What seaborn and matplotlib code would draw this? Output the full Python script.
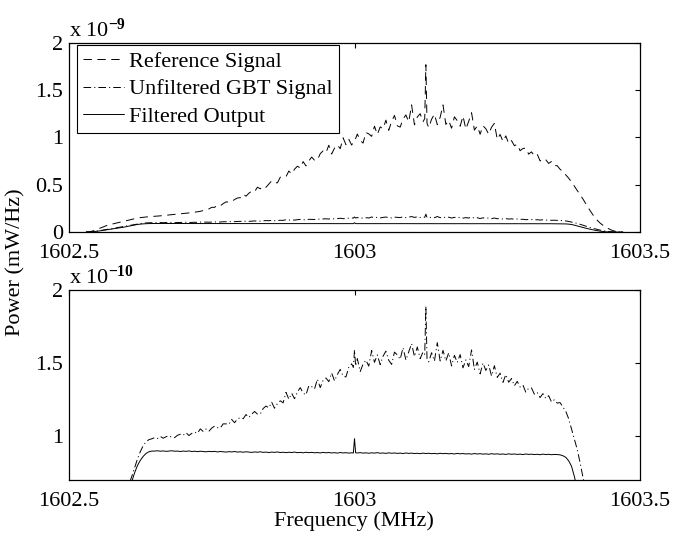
import numpy as np
import pandas as pd
import matplotlib
matplotlib.use("Agg")
import matplotlib.pyplot as plt
import seaborn as sns

# ---------------- data ----------------
freq_mhz = [
    1602.530, 1602.535, 1602.540, 1602.545, 1602.550, 1602.555, 1602.560, 1602.565, 1602.570, 1602.575,
    1602.580, 1602.585, 1602.590, 1602.595, 1602.600, 1602.605, 1602.610, 1602.615, 1602.620, 1602.625,
    1602.630, 1602.635, 1602.640, 1602.645, 1602.650, 1602.655, 1602.660, 1602.665, 1602.670, 1602.675,
    1602.680, 1602.685, 1602.690, 1602.695, 1602.700, 1602.705, 1602.710, 1602.715, 1602.720, 1602.725,
    1602.730, 1602.735, 1602.740, 1602.745, 1602.750, 1602.755, 1602.760, 1602.765, 1602.770, 1602.775,
    1602.780, 1602.785, 1602.790, 1602.795, 1602.800, 1602.805, 1602.810, 1602.815, 1602.820, 1602.825,
    1602.830, 1602.835, 1602.840, 1602.845, 1602.850, 1602.855, 1602.860, 1602.865, 1602.870, 1602.875,
    1602.880, 1602.885, 1602.890, 1602.895, 1602.900, 1602.905, 1602.910, 1602.915, 1602.920, 1602.925,
    1602.930, 1602.935, 1602.940, 1602.945, 1602.950, 1602.955, 1602.960, 1602.965, 1602.970, 1602.975,
    1602.980, 1602.985, 1602.990, 1602.995, 1602.998, 1603.000, 1603.002, 1603.005, 1603.010, 1603.015, 1603.020, 1603.025,
    1603.030, 1603.035, 1603.040, 1603.045, 1603.050, 1603.055, 1603.060, 1603.065, 1603.070, 1603.075,
    1603.080, 1603.085, 1603.090, 1603.095, 1603.100, 1603.105, 1603.110, 1603.115, 1603.120, 1603.123, 1603.125,
    1603.127, 1603.130, 1603.135, 1603.140, 1603.145, 1603.150, 1603.155, 1603.160, 1603.165, 1603.170, 1603.175,
    1603.180, 1603.185, 1603.190, 1603.195, 1603.200, 1603.205, 1603.210, 1603.215, 1603.220, 1603.225,
    1603.230, 1603.235, 1603.240, 1603.245, 1603.250, 1603.255, 1603.260, 1603.265, 1603.270, 1603.275,
    1603.280, 1603.285, 1603.290, 1603.295, 1603.300, 1603.305, 1603.310, 1603.315, 1603.320, 1603.325,
    1603.330, 1603.335, 1603.340, 1603.345, 1603.350, 1603.355, 1603.360, 1603.365, 1603.370, 1603.375,
    1603.380, 1603.385, 1603.390, 1603.395, 1603.400, 1603.405, 1603.410, 1603.415, 1603.420, 1603.425,
    1603.430, 1603.435, 1603.440, 1603.445, 1603.450, 1603.455, 1603.460, 1603.465, 1603.470,
]

# Reference Signal, in units of 1e-9 mW/Hz
reference_1e9 = [
    0.000, 0.000, 0.008, 0.018, 0.030, 0.042, 0.055, 0.066, 0.075, 0.083,
    0.090, 0.097, 0.104, 0.110, 0.118, 0.126, 0.134, 0.141, 0.147, 0.152,
    0.156, 0.159, 0.162, 0.164, 0.166, 0.169, 0.171, 0.174, 0.176, 0.179,
    0.182, 0.185, 0.188, 0.191, 0.194, 0.198, 0.201, 0.205, 0.209, 0.214,
    0.219, 0.226, 0.234, 0.244, 0.261, 0.261, 0.285, 0.278, 0.300, 0.319,
    0.316, 0.321, 0.344, 0.360, 0.363, 0.400, 0.379, 0.410, 0.433, 0.426,
    0.474, 0.457, 0.486, 0.473, 0.508, 0.542, 0.523, 0.520, 0.580, 0.585,
    0.585, 0.645, 0.615, 0.665, 0.696, 0.678, 0.745, 0.699, 0.752, 0.793,
    0.759, 0.762, 0.829, 0.858, 0.838, 0.918, 0.825, 0.888, 0.922, 0.881,
    0.997, 0.924, 0.981, 0.920, 0.950, 0.983, 0.990, 1.037, 0.968, 0.941, 1.053, 1.038,
    1.012, 1.120, 1.031, 1.112, 1.093, 1.184, 1.076, 1.170, 1.234, 1.124,
    1.110, 1.196, 1.239, 1.166, 1.345, 1.134, 1.217, 1.252, 1.167, 1.200, 1.770,
    1.150, 1.105, 1.193, 1.248, 1.135, 1.214, 1.345, 1.138, 1.181, 1.098, 1.219,
    1.178, 1.119, 1.228, 1.089, 1.171, 1.262, 1.078, 1.122, 1.034, 1.124,
    1.093, 1.035, 1.109, 1.150, 0.980, 1.032, 0.958, 1.017, 0.937, 0.967,
    0.913, 0.928, 0.860, 0.884, 0.887, 0.824, 0.848, 0.806, 0.824, 0.752,
    0.776, 0.765, 0.726, 0.745, 0.702, 0.702, 0.664, 0.640, 0.605, 0.570,
    0.530, 0.485, 0.440, 0.395, 0.350, 0.300, 0.250, 0.205, 0.160, 0.125,
    0.095, 0.072, 0.052, 0.035, 0.020, 0.010, 0.003, 0.000, 0.000,
]

# Unfiltered GBT Signal, in units of 1e-10 mW/Hz
unfiltered_1e10 = [
    0.000, 0.000, 0.015, 0.050, 0.100, 0.150, 0.200, 0.255, 0.310, 0.365,
    0.420, 0.475, 0.530, 0.575, 0.625, 0.670, 0.725, 0.785, 0.845, 0.895,
    0.935, 0.962, 0.976, 0.982, 0.990, 0.984, 0.998, 0.986, 0.996, 1.003,
    0.992, 0.990, 1.006, 1.013, 1.006, 1.024, 1.004, 1.019, 1.028, 1.020,
    1.050, 1.032, 1.049, 1.034, 1.055, 1.069, 1.058, 1.056, 1.084, 1.084,
    1.081, 1.114, 1.092, 1.117, 1.127, 1.119, 1.148, 1.128, 1.150, 1.169,
    1.151, 1.152, 1.189, 1.206, 1.194, 1.232, 1.191, 1.222, 1.242, 1.228,
    1.300, 1.253, 1.293, 1.256, 1.302, 1.332, 1.295, 1.282, 1.345, 1.339,
    1.323, 1.390, 1.332, 1.382, 1.398, 1.373, 1.432, 1.378, 1.422, 1.457,
    1.411, 1.405, 1.471, 1.495, 1.470, 1.590, 1.480, 1.530, 1.442, 1.493, 1.520, 1.479,
    1.586, 1.505, 1.556, 1.489, 1.547, 1.582, 1.519, 1.491, 1.575, 1.556,
    1.526, 1.605, 1.521, 1.577, 1.633, 1.545, 1.610, 1.530, 1.576, 1.560, 1.888,
    1.530, 1.508, 1.571, 1.514, 1.640, 1.514, 1.587, 1.515, 1.570, 1.480, 1.553,
    1.504, 1.558, 1.467, 1.522, 1.476, 1.590, 1.456, 1.507, 1.426, 1.500,
    1.450, 1.487, 1.412, 1.482, 1.402, 1.431, 1.368, 1.421, 1.369, 1.394,
    1.345, 1.375, 1.336, 1.349, 1.301, 1.328, 1.330, 1.287, 1.299, 1.264,
    1.291, 1.258, 1.277, 1.234, 1.249, 1.226, 1.230, 1.200, 1.170, 1.120,
    1.050, 0.980, 0.910, 0.820, 0.720, 0.620, 0.520, 0.430, 0.350, 0.270,
    0.200, 0.140, 0.090, 0.050, 0.020, 0.005, 0.000, 0.000, 0.000,
]

# Filtered Output, in units of 1e-10 mW/Hz
filtered_1e10 = [
    0.000, 0.000, 0.015, 0.045, 0.085, 0.130, 0.175, 0.220, 0.265, 0.310,
    0.355, 0.400, 0.450, 0.500, 0.560, 0.625, 0.690, 0.750, 0.800, 0.835,
    0.862, 0.882, 0.893, 0.898, 0.898, 0.900, 0.897, 0.899, 0.896, 0.898,
    0.900, 0.897, 0.898, 0.895, 0.898, 0.896, 0.899, 0.895, 0.897, 0.894,
    0.897, 0.895, 0.893, 0.896, 0.894, 0.896, 0.892, 0.895, 0.893, 0.891,
    0.894, 0.892, 0.895, 0.891, 0.893, 0.890, 0.893, 0.891, 0.889, 0.892,
    0.890, 0.893, 0.889, 0.891, 0.888, 0.891, 0.889, 0.892, 0.888, 0.890,
    0.887, 0.890, 0.888, 0.891, 0.887, 0.889, 0.886, 0.890, 0.887, 0.889,
    0.886, 0.888, 0.885, 0.889, 0.886, 0.888, 0.885, 0.887, 0.884, 0.888,
    0.885, 0.887, 0.884, 0.886, 0.885, 0.983, 0.886, 0.885, 0.887, 0.884, 0.886, 0.883,
    0.886, 0.884, 0.887, 0.883, 0.885, 0.882, 0.886, 0.883, 0.885, 0.882,
    0.884, 0.881, 0.885, 0.882, 0.884, 0.881, 0.883, 0.880, 0.884, 0.882, 0.881,
    0.882, 0.883, 0.880, 0.882, 0.879, 0.883, 0.880, 0.882, 0.879, 0.881, 0.878,
    0.882, 0.879, 0.881, 0.878, 0.880, 0.877, 0.881, 0.878, 0.880, 0.877,
    0.879, 0.876, 0.880, 0.877, 0.879, 0.876, 0.878, 0.875, 0.879, 0.876,
    0.878, 0.875, 0.877, 0.874, 0.878, 0.875, 0.877, 0.874, 0.876, 0.873,
    0.877, 0.874, 0.876, 0.873, 0.875, 0.874, 0.872, 0.866, 0.855, 0.832,
    0.795, 0.725, 0.640, 0.560, 0.480, 0.400, 0.330, 0.260, 0.200, 0.140,
    0.090, 0.050, 0.020, 0.005, 0.000, 0.000, 0.000, 0.000, 0.000,
]

series_labels = ["Reference Signal", "Unfiltered GBT Signal", "Filtered Output"]
x_ticks = [1602.5, 1603.0, 1603.5]
x_ticklabels = ["1602.5", "1603", "1603.5"]
top_yticks = [0, 0.5, 1, 1.5, 2]
top_yticklabels = ["0", "0.5", "1", "1.5", "2"]
bottom_yticks = [1, 1.5, 2]
bottom_yticklabels = ["1", "1.5", "2"]
top_ylim = (0, 2)
bottom_ylim = (0.7, 2)
x_label = "Frequency (MHz)"
y_label = "Power (mW/Hz)"
top_scale_text = r"x 10$^{\mathbf{-9}}$"
bottom_scale_text = r"x 10$^{\mathbf{-10}}$"

# ---------------- style ----------------
sns.set_theme(style="white")
plt.rcParams.update({
    "font.family": ["Liberation Serif", "DejaVu Serif"],
    "mathtext.fontset": "custom",
    "mathtext.rm": "Liberation Serif",
    "mathtext.it": "Liberation Serif:italic",
    "mathtext.bf": "Liberation Serif:bold",
    "lines.scale_dashes": False,
    "axes.edgecolor": "black",
    "axes.linewidth": 0.9,
    "xtick.color": "black",
    "ytick.color": "black",
    "text.color": "black",
    "axes.labelcolor": "black",
})

FS = 16
LW = 0.7
DASHED = (0, (6.0, 4.0))
DASHDOT = (0, (5.5, 2.2, 0.8, 2.2))

df = pd.DataFrame({
    "freq": freq_mhz,
    "reference": np.array(reference_1e9) * 1e-9,
    "unfiltered": np.array(unfiltered_1e10) * 1e-10,
    "filtered": np.array(filtered_1e10) * 1e-10,
})
df["ref_top"] = df["reference"] / 1e-9
df["unf_top"] = df["unfiltered"] / 1e-9
df["filt_top"] = df["filtered"] / 1e-9
df["unf_bot"] = df["unfiltered"] / 1e-10
df["filt_bot"] = df["filtered"] / 1e-10

fig = plt.figure(figsize=(6.73, 5.36), dpi=100)
W, H = 673.0, 536.0
ax1 = fig.add_axes([69 / W, 1 - 232 / H, 571 / W, 189 / H])
ax2 = fig.add_axes([69 / W, 1 - 480 / H, 571 / W, 190 / H])

# top panel
sns.lineplot(data=df, x="freq", y="ref_top", ax=ax1, color="black", lw=LW,
             linestyle=DASHED, estimator=None, label=series_labels[0])
sns.lineplot(data=df, x="freq", y="unf_top", ax=ax1, color="black", lw=LW,
             linestyle=DASHDOT, estimator=None, label=series_labels[1])
sns.lineplot(data=df, x="freq", y="filt_top", ax=ax1, color="black", lw=LW,
             linestyle="-", estimator=None, label=series_labels[2])

# bottom panel
sns.lineplot(data=df, x="freq", y="unf_bot", ax=ax2, color="black", lw=LW,
             linestyle=DASHDOT, estimator=None)
sns.lineplot(data=df, x="freq", y="filt_bot", ax=ax2, color="black", lw=LW,
             linestyle="-", estimator=None)

for ax, yt, ytl, yl in [(ax1, top_yticks, top_yticklabels, top_ylim),
                        (ax2, bottom_yticks, bottom_yticklabels, bottom_ylim)]:
    ax.set_xlim(1602.5, 1603.5)
    ax.set_ylim(*yl)
    ax.set_xticks(x_ticks)
    ax.set_xticklabels(x_ticklabels)
    ax.set_yticks(yt)
    ax.set_yticklabels(ytl)
    ax.set_xlabel("")
    ax.set_ylabel("")
    ax.tick_params(axis="both", direction="in", length=3.5, width=0.8,
                   top=True, right=True, labelsize=FS, colors="black")
    ax.tick_params(axis="x", pad=9)
    ax.tick_params(axis="y", pad=4)
    for s in ax.spines.values():
        s.set_visible(True)
        s.set_color("black")
        s.set_linewidth(0.9)
    ax.grid(False)
    ax.set_facecolor("white")

ax1.text(0.0, 1.008, top_scale_text, transform=ax1.transAxes, ha="left",
         va="bottom", fontsize=FS)
ax2.text(0.0, 1.008, bottom_scale_text, transform=ax2.transAxes, ha="left",
         va="bottom", fontsize=FS)

handles, labels = ax1.get_legend_handles_labels()
leg = ax1.legend(handles, labels, loc="upper left",
                 bbox_to_anchor=(8 / 571, 1 - 2 / 189), borderaxespad=0,
                 frameon=True, fancybox=False, framealpha=1,
                 edgecolor="black", fontsize=FS, handlelength=1.85,
                 handletextpad=0.2, labelspacing=0.32, borderpad=0.28)
leg.get_frame().set_linewidth(0.8)
leg.get_frame().set_facecolor("white")

fig.text(354 / W, 1 - 521 / H, x_label, ha="center", va="center", fontsize=FS)
fig.text(16 / W, 1 - 262 / H, y_label, ha="center", va="center",
         rotation=90, fontsize=FS)

fig.savefig("out.png", dpi=100, facecolor="white")
